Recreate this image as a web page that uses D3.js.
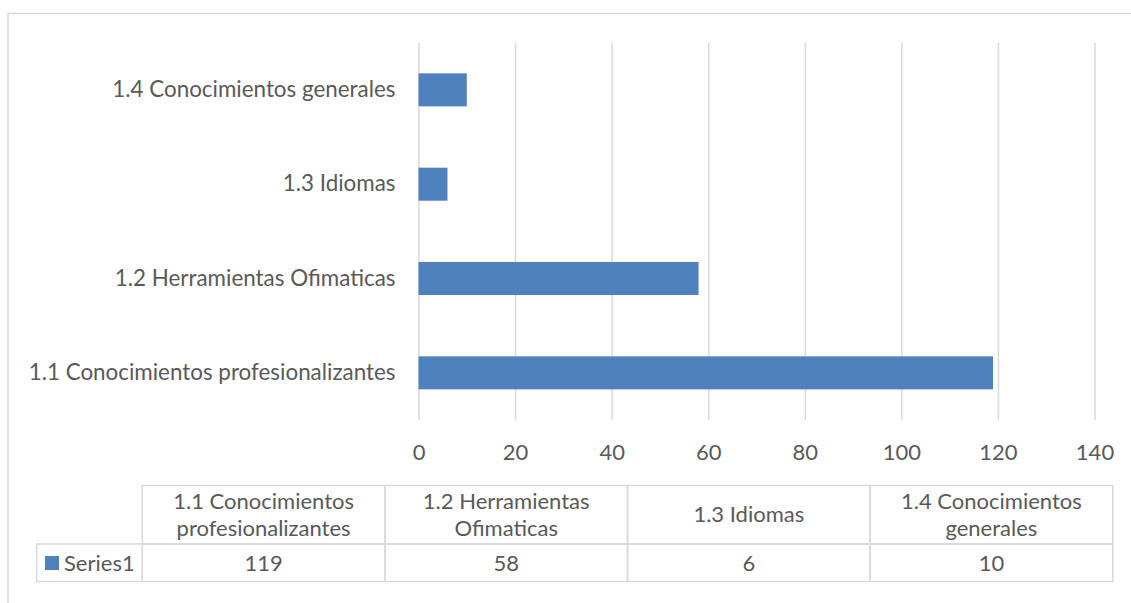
<!DOCTYPE html>
<html>
<head>
<meta charset="utf-8">
<script src="https://cdn.jsdelivr.net/npm/d3@7"></script>
<style>
  body { margin: 0; background: #fff; }
  svg { display: block; }
  text { font-family: Lato, "Open Sans", sans-serif; fill: #595959; }
</style>
</head>
<body>
<svg id="chart" width="1131" height="603"></svg>
<script>
// Data
const categories = [
  "1.1 Conocimientos profesionalizantes",
  "1.2 Herramientas Ofimaticas",
  "1.3 Idiomas",
  "1.4 Conocimientos generales"
];
const tableHeaders = [
  ["1.1 Conocimientos", "profesionalizantes"],
  ["1.2 Herramientas", "Ofimaticas"],
  ["1.3 Idiomas"],
  ["1.4 Conocimientos", "generales"]
];
const seriesName = "Series1";
const series1 = [119, 58, 6, 10];
const xTicks = [0, 20, 40, 60, 80, 100, 120, 140];

// Layout
const W = 1131, H = 603;
const plot = { left: 418.5, right: 1094.5, top: 42.7, bottom: 420 };
const table = { left: 36.7, colStart: 142.3, right: 1112.7, top: 485.5, mid: 544, bottom: 581.5 };
const fontSize = 22;
const catFontSize = 22.4;
const gridColor = "#d9d9d9";
const barColor = "#4f81bd";

const svg = d3.select("#chart");
svg.style("font-size", fontSize + "px");

// Chart frame
svg.append("rect")
  .attr("x", 8).attr("y", 13.5)
  .attr("width", W + 20).attr("height", H + 20)
  .attr("fill", "none").attr("stroke", gridColor).attr("stroke-width", 1.5);

const x = d3.scaleLinear().domain([0, 140]).range([plot.left, plot.right]);
const y = d3.scaleBand()
  .domain(categories.slice().reverse())
  .range([plot.top, plot.bottom])
  .paddingInner(0.65)
  .paddingOuter(0.325);

// Vertical gridlines + value labels
const xAxis = svg.append("g")
  .attr("transform", `translate(0,${plot.bottom})`)
  .call(d3.axisBottom(x)
    .tickValues(xTicks)
    .tickSize(-(plot.bottom - plot.top))
    .tickPadding(24)
    .tickFormat(d3.format("d")));
xAxis.select(".domain").remove();
xAxis.selectAll(".tick line").attr("stroke", gridColor).attr("stroke-width", 1.5);
xAxis.selectAll(".tick text")
  .attr("fill", "#595959")
  .style("font-family", "Lato, 'Open Sans', sans-serif")
  .style("font-size", fontSize + "px");

// Category labels
const yAxis = svg.append("g")
  .attr("transform", `translate(${plot.left},0)`)
  .call(d3.axisLeft(y).tickSize(0).tickPadding(23));
yAxis.select(".domain").remove();
yAxis.selectAll(".tick text")
  .attr("fill", "#595959")
  .style("font-family", "Lato, 'Open Sans', sans-serif")
  .style("font-size", catFontSize + "px");

// Bars
svg.append("g").selectAll("rect")
  .data(categories.map((c, i) => ({ c, v: series1[i] })))
  .join("rect")
  .attr("x", x(0))
  .attr("y", d => y(d.c))
  .attr("width", d => x(d.v) - x(0))
  .attr("height", y.bandwidth())
  .attr("fill", barColor);

// Data table
const col = d3.scaleBand().domain(categories).range([table.colStart, table.right]);
const tg = svg.append("g");

const cellStyle = sel => sel.attr("fill", "none").attr("stroke", gridColor).attr("stroke-width", 1.5);

// header cells
tg.selectAll("rect.head")
  .data(categories)
  .join("rect").attr("class", "head")
  .attr("x", d => col(d)).attr("y", table.top)
  .attr("width", col.bandwidth()).attr("height", table.mid - table.top)
  .call(cellStyle);

// value cells
tg.selectAll("rect.val")
  .data(categories)
  .join("rect").attr("class", "val")
  .attr("x", d => col(d)).attr("y", table.mid)
  .attr("width", col.bandwidth()).attr("height", table.bottom - table.mid)
  .call(cellStyle);

// legend cell
tg.append("rect")
  .attr("x", table.left).attr("y", table.mid)
  .attr("width", table.colStart - table.left).attr("height", table.bottom - table.mid)
  .call(cellStyle);

// header texts
const lineGap = 27.3;
const headMid = (table.top + table.mid) / 2;
tg.selectAll("text.head")
  .data(categories.map((c, i) => ({ c, lines: tableHeaders[i] })))
  .join("text").attr("class", "head")
  .attr("text-anchor", "middle")
  .each(function (d) {
    const t = d3.select(this);
    const n = d.lines.length;
    const firstBaseline = headMid + 7.5 - (n - 1) * lineGap / 2;
    d.lines.forEach((ln, k) => {
      t.append("tspan")
        .attr("x", col(d.c) + col.bandwidth() / 2)
        .attr("y", firstBaseline + k * lineGap)
        .text(ln);
    });
  });

// value texts
const valBaseline = (table.mid + table.bottom) / 2 + 8;
tg.selectAll("text.val")
  .data(categories.map((c, i) => ({ c, v: series1[i] })))
  .join("text").attr("class", "val")
  .attr("text-anchor", "middle")
  .attr("x", d => col(d.c) + col.bandwidth() / 2)
  .attr("y", valBaseline)
  .text(d => d.v);

// legend key
tg.append("rect")
  .attr("x", 45).attr("y", 556)
  .attr("width", 14).attr("height", 14)
  .attr("fill", barColor);
tg.append("text")
  .attr("x", 64).attr("y", valBaseline)
  .text(seriesName);
</script>
</body>
</html>
